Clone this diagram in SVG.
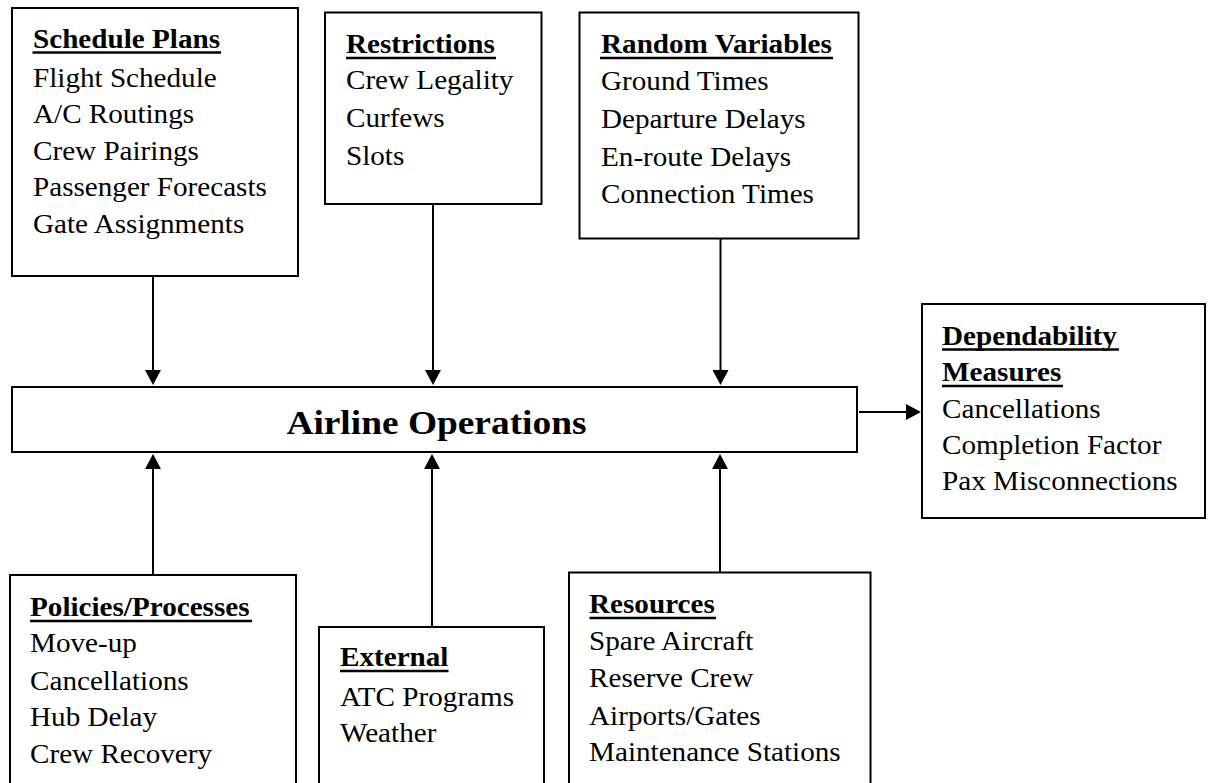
<svg xmlns="http://www.w3.org/2000/svg" width="1213" height="783" viewBox="0 0 1213 783">
  <style>
    .box { fill: #ffffff; stroke: #000000; stroke-width: 2; }
    text { font-family: "Liberation Serif", "Times New Roman", serif; fill: #000000; font-size: 26.5px; }
    .h { font-weight: bold; }
    .title { font-weight: bold; font-size: 34px; text-anchor: middle; }
    .ul { stroke: #000000; stroke-width: 2.5; }
    .conn { stroke: #000000; stroke-width: 2; fill: none; marker-end: url(#arrow); }
  </style>
  <defs>
    <marker id="arrow" markerUnits="userSpaceOnUse" markerWidth="16" markerHeight="16" refX="10" refY="8" orient="auto">
      <path d="M0,0 L15,8 L0,16 Z" fill="#000000"/>
    </marker>
  </defs>
  <rect x="0" y="0" width="1213" height="783" fill="#ffffff"/>

  <g id="connectors">
    <line class="conn" x1="153" y1="276" x2="153" y2="380"/>
    <line class="conn" x1="433" y1="204" x2="433" y2="380"/>
    <line class="conn" x1="720.5" y1="238.5" x2="720.5" y2="380"/>
    <line class="conn" x1="153" y1="575" x2="153" y2="459"/>
    <line class="conn" x1="432" y1="627" x2="432" y2="459"/>
    <line class="conn" x1="720" y1="572.5" x2="720" y2="459"/>
    <line class="conn" x1="859" y1="412" x2="916" y2="412"/>
  </g>

  <g id="schedule-plans">
    <rect class="box" x="12" y="8" width="286" height="268"/>
    <text class="h" transform="scale(1.1 1)" x="30" y="48.5">Schedule Plans</text>
    <line class="ul" x1="32.5" y1="52.5" x2="221" y2="52.5"/>
    <text transform="scale(1.1 1)" x="30" y="87">Flight Schedule</text>
    <text transform="scale(1.1 1)" x="30" y="123.5">A/C Routings</text>
    <text transform="scale(1.1 1)" x="30" y="160">Crew Pairings</text>
    <text transform="scale(1.1 1)" x="30" y="196.5">Passenger Forecasts</text>
    <text transform="scale(1.1 1)" x="30" y="233">Gate Assignments</text>
  </g>

  <g id="restrictions">
    <rect class="box" x="325" y="12.5" width="216.5" height="191.5"/>
    <text class="h" transform="scale(1.1 1)" x="314.5" y="53.5">Restrictions</text>
    <line class="ul" x1="346" y1="58" x2="496" y2="58"/>
    <text transform="scale(1.1 1)" x="314.5" y="89.5">Crew Legality</text>
    <text transform="scale(1.1 1)" x="314.5" y="127.5">Curfews</text>
    <text transform="scale(1.1 1)" x="314.5" y="165.5">Slots</text>
  </g>

  <g id="random-variables">
    <rect class="box" x="579.5" y="12.5" width="279" height="226"/>
    <text class="h" transform="scale(1.1 1)" x="546.4" y="53.5">Random Variables</text>
    <line class="ul" x1="600" y1="58" x2="833" y2="58"/>
    <text transform="scale(1.1 1)" x="546.4" y="90">Ground Times</text>
    <text transform="scale(1.1 1)" x="546.4" y="128">Departure Delays</text>
    <text transform="scale(1.1 1)" x="546.4" y="166">En-route Delays</text>
    <text transform="scale(1.1 1)" x="546.4" y="203.5">Connection Times</text>
  </g>

  <g id="airline-operations">
    <rect class="box" x="12" y="387" width="845" height="65"/>
    <text class="title" transform="scale(1.1 1)" x="396.8" y="434">Airline Operations</text>
  </g>

  <g id="dependability-measures">
    <rect class="box" x="922" y="304" width="283" height="214"/>
    <text class="h" transform="scale(1.1 1)" x="856.4" y="345">Dependability</text>
    <line class="ul" x1="942" y1="349.5" x2="1119" y2="349.5"/>
    <text class="h" transform="scale(1.1 1)" x="856.4" y="381.5">Measures</text>
    <line class="ul" x1="942" y1="386" x2="1063" y2="386"/>
    <text transform="scale(1.1 1)" x="856.4" y="418">Cancellations</text>
    <text transform="scale(1.1 1)" x="856.4" y="454">Completion Factor</text>
    <text transform="scale(1.1 1)" x="856.4" y="490">Pax Misconnections</text>
  </g>

  <g id="policies-processes">
    <rect class="box" x="10" y="575" width="286" height="240"/>
    <text class="h" transform="scale(1.1 1)" x="27.3" y="616.5">Policies/Processes</text>
    <line class="ul" x1="30" y1="621" x2="252" y2="621"/>
    <text transform="scale(1.1 1)" x="27.3" y="652">Move-up</text>
    <text transform="scale(1.1 1)" x="27.3" y="690">Cancellations</text>
    <text transform="scale(1.1 1)" x="27.3" y="726.5">Hub Delay</text>
    <text transform="scale(1.1 1)" x="27.3" y="763">Crew Recovery</text>
  </g>

  <g id="external">
    <rect class="box" x="319" y="627" width="225" height="190"/>
    <text class="h" transform="scale(1.1 1)" x="309.1" y="666.5">External</text>
    <line class="ul" x1="340" y1="671" x2="448.5" y2="671"/>
    <text transform="scale(1.1 1)" x="309.1" y="706">ATC Programs</text>
    <text transform="scale(1.1 1)" x="309.1" y="742.5">Weather</text>
  </g>

  <g id="resources">
    <rect class="box" x="569" y="572.5" width="301.5" height="240"/>
    <text class="h" transform="scale(1.1 1)" x="535.5" y="613.5">Resources</text>
    <line class="ul" x1="589.5" y1="618" x2="716" y2="618"/>
    <text transform="scale(1.1 1)" x="535.5" y="650">Spare Aircraft</text>
    <text transform="scale(1.1 1)" x="535.5" y="687">Reserve Crew</text>
    <text transform="scale(1.1 1)" x="535.5" y="725">Airports/Gates</text>
    <text transform="scale(1.1 1)" x="535.5" y="761.5">Maintenance Stations</text>
  </g>
</svg>
